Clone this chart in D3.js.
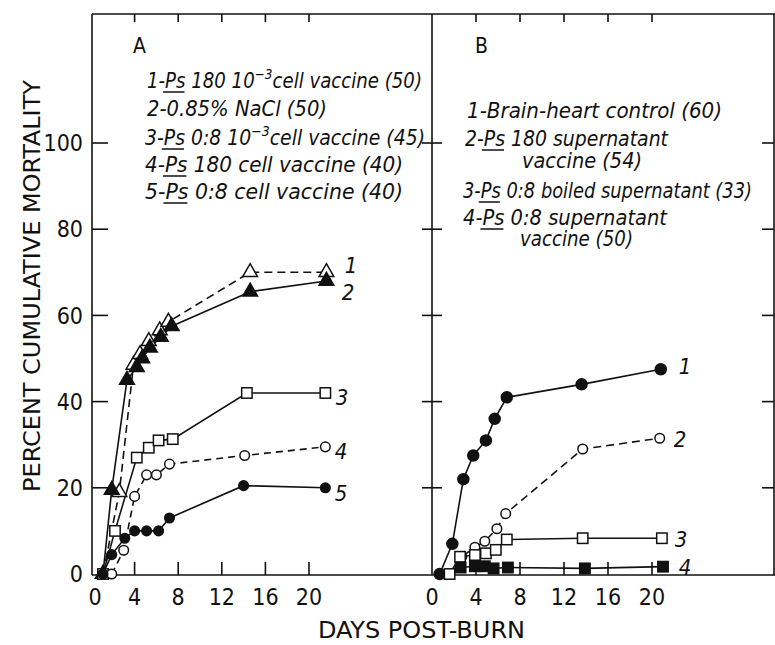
<!DOCTYPE html>
<html>
<head>
<meta charset="utf-8">
<script src="https://cdn.jsdelivr.net/npm/d3@7"></script>
<style>
  body { margin: 0; background: #fff; }
  text { font-family: "DejaVu Sans Condensed", "DejaVu Sans", sans-serif; font-stretch: condensed; fill: #111; }
  .leg { font-style: italic; font-size: 21px; }
  .tick { font-size: 23px; }
</style>
</head>
<body>
<svg id="chart" width="775" height="645"></svg>
<script>
// ---- data ----
const tickDays = [0, 4, 8, 12, 16, 20];
const tickPct = [0, 20, 40, 60, 80, 100];

// panel A
const a1Days = [1.1, 2.6, 3.9, 4.5, 5.3, 6.3, 7.1, 14.6, 21.6];
const a1Vals = [0, 19, 48.5, 51, 54, 56.5, 58.5, 70, 70];
const a2Days = [1.1, 1.9, 3.3, 4.2, 4.7, 5.4, 6.4, 7.4, 14.6, 21.6];
const a2Vals = [0, 19.5, 45, 48, 50, 52.5, 55, 57.5, 65.5, 68];
const a3Days = [1.1, 2.2, 4.2, 5.3, 6.2, 7.5, 14.3, 21.5];
const a3Vals = [0, 10, 27, 29.3, 31, 31.3, 42, 42];
const a4Days = [1.9, 3.0, 4.0, 5.1, 6.0, 7.2, 14.1, 21.5];
const a4Vals = [0, 5.5, 18, 23, 23, 25.5, 27.5, 29.5];
const a5Days = [1.1, 1.9, 3.1, 4.0, 5.1, 6.2, 7.2, 14.0, 21.5];
const a5Vals = [0, 4.5, 8.3, 10, 10, 10, 13, 20.5, 20];

// panel B
const b1Days = [0.7, 1.85, 2.85, 3.75, 4.9, 5.7, 6.8, 13.6, 20.8];
const b1Vals = [0, 7, 22, 27.5, 31, 36, 41, 44, 47.5];
const b2Days = [1.6, 2.7, 3.9, 4.8, 5.9, 6.7, 13.7, 20.7];
const b2Vals = [0, 4, 6.2, 7.6, 10.5, 14, 29, 31.5];
const b3Days = [1.6, 2.55, 3.9, 4.9, 5.8, 6.8, 13.7, 20.9];
const b3Vals = [0, 4, 4.4, 4.8, 5.6, 8, 8.3, 8.3];
const b4Days = [2.6, 3.9, 4.8, 5.6, 6.9, 13.9, 21];
const b4Vals = [1.5, 1.8, 1.8, 1.3, 1.5, 1.3, 1.7];

// legend text (u = underlined, s = superscript)
const legendA = [
  [{t: "1-"}, {t: "Ps", u: 1}, {t: " 180 10"}, {t: "\u22123", s: 1}, {t: "cell  vaccine (50)"}],
  [{t: "2-0.85% NaCl (50)"}],
  [{t: "3-"}, {t: "Ps", u: 1}, {t: " 0:8 10"}, {t: "\u22123", s: 1}, {t: "cell  vaccine (45)"}],
  [{t: "4-"}, {t: "Ps", u: 1}, {t: " 180 cell  vaccine (40)"}],
  [{t: "5-"}, {t: "Ps", u: 1}, {t: " 0:8 cell  vaccine (40)"}]
];
const legendB = [
  [{t: "1-Brain-heart  control  (60)"}],
  [{t: "2-"}, {t: "Ps", u: 1}, {t: " 180 supernatant"}],
  [{t: "vaccine (54)"}],
  [{t: "3-"}, {t: "Ps", u: 1}, {t: " 0:8 boiled supernatant (33)"}],
  [{t: "4-"}, {t: "Ps", u: 1}, {t: " 0:8 supernatant"}],
  [{t: "vaccine (50)"}]
];

// ---- layout ----
const W = 775, H = 645;
const fTop = 14, fBottom = 575, fLeft = 92, fMid = 432, fRight = 774;

const svg = d3.select("#chart");
svg.append("rect").attr("width", W).attr("height", H).attr("fill", "#fff");

const y = d3.scaleLinear().domain([0, 100]).range([574, 143]);
const xA = d3.scaleLinear().domain([0, 20]).range([91, 309]);
const xB = d3.scaleLinear().domain([0, 20]).range([432, 652]);

const ink = "#111";
const frame = svg.append("g").attr("stroke", ink).attr("stroke-width", 1.6).attr("fill", "none");
frame.append("line").attr("x1", fLeft).attr("x2", W).attr("y1", fTop).attr("y2", fTop);
frame.append("line").attr("x1", fLeft).attr("x2", W).attr("y1", fBottom).attr("y2", fBottom);
frame.append("line").attr("x1", fLeft).attr("x2", fLeft).attr("y1", fTop).attr("y2", fBottom);
frame.append("line").attr("x1", fMid).attr("x2", fMid).attr("y1", fTop).attr("y2", fBottom);
frame.append("line").attr("x1", fRight).attr("x2", fRight).attr("y1", fTop).attr("y2", fBottom);

// y ticks: inward on left, crossing at the divider, inward on the right
const yt = tickPct.filter(d => d > 0);
frame.append("g").selectAll("line").data(yt).join("line")
  .attr("x1", fLeft).attr("x2", fLeft + 16).attr("y1", d => y(d)).attr("y2", d => y(d));
frame.append("g").selectAll("line").data(yt).join("line")
  .attr("x1", fMid - 10).attr("x2", fMid + 10).attr("y1", d => y(d)).attr("y2", d => y(d));
frame.append("g").selectAll("line").data(yt).join("line")
  .attr("x1", fRight - 12).attr("x2", fRight).attr("y1", d => y(d)).attr("y2", d => y(d));

// x ticks top and bottom for both panels
const xt = tickDays.filter(d => d > 0);
[xA, xB].forEach(xs => {
  frame.append("g").selectAll("line").data(xt).join("line")
    .attr("x1", d => xs(d)).attr("x2", d => xs(d)).attr("y1", fTop).attr("y2", fTop + 8);
  frame.append("g").selectAll("line").data(xt).join("line")
    .attr("x1", d => xs(d)).attr("x2", d => xs(d)).attr("y1", fBottom - 13).attr("y2", fBottom);
});

// tick labels
svg.append("g").selectAll("text").data(tickPct).join("text")
  .attr("class", "tick")
  .attr("x", 83).attr("y", d => y(d)).attr("dy", "0.36em")
  .attr("text-anchor", "end")
  .text(d => d);
[xA, xB].forEach(xs => {
  svg.append("g").selectAll("text").data(tickDays).join("text")
    .attr("class", "tick")
    .attr("x", d => xs(d) + (d === 0 && xs === xA ? 4 : 0)).attr("y", 605)
    .attr("text-anchor", "middle")
    .text(d => d);
});

// axis titles
svg.append("text")
  .attr("transform", "translate(40,286) rotate(-90)")
  .attr("text-anchor", "middle")
  .attr("textLength", 412).attr("lengthAdjust", "spacingAndGlyphs")
  .style("font-size", "23px")
  .text("PERCENT  CUMULATIVE  MORTALITY");
svg.append("text")
  .attr("x", 318).attr("y", 638)
  .attr("textLength", 207).attr("lengthAdjust", "spacingAndGlyphs")
  .style("font-size", "23px")
  .text("DAYS  POST-BURN");

// panel letters
svg.append("text").attr("x", 133).attr("y", 53).style("font-size", "21px").text("A");
svg.append("text").attr("x", 475).attr("y", 53).style("font-size", "21px").text("B");

// legends: [x, baseline, width]
const posA = [[147, 88, 275], [147, 116, 180], [145, 145, 280], [145, 172, 258], [145, 199, 258]];
const posB = [[467, 118, 255], [465, 146, 203], [522, 168, 120], [463, 198, 289], [463, 225, 204], [520, 246, 113]];

function drawLegend(lines, pos) {
  lines.forEach((parts, i) => {
    const [lx, ly, lw] = pos[i];
    const t = svg.append("text").attr("class", "leg")
      .attr("x", lx).attr("y", ly)
      .attr("textLength", lw).attr("lengthAdjust", "spacingAndGlyphs");
    let idx = 0, wasSup = false;
    const under = [];
    parts.forEach(p => {
      const ts = t.append("tspan").text(p.t);
      if (p.s) { ts.attr("dy", -9).style("font-size", "14px"); wasSup = true; }
      else if (wasSup) { ts.attr("dy", 9); wasSup = false; }
      if (p.u) under.push([idx, idx + p.t.length - 1]);
      idx += p.t.length;
    });
    const node = t.node();
    under.forEach(([a, b]) => {
      const s = node.getStartPositionOfChar(a).x;
      const e = node.getEndPositionOfChar(b).x;
      svg.append("line").attr("x1", s - 2).attr("x2", e - 1)
        .attr("y1", ly + 4).attr("y2", ly + 4)
        .attr("stroke", ink).attr("stroke-width", 1.5);
    });
  });
}
drawLegend(legendA, posA);
drawLegend(legendB, posB);

// series
const seriesA = [
  {days: a1Days, vals: a1Vals, mark: "tri", fill: "#fff", dash: "8,5", label: "1", lx: 351, ly: 265},
  {days: a2Days, vals: a2Vals, mark: "tri", fill: ink, dash: null, label: "2", lx: 348, ly: 292},
  {days: a3Days, vals: a3Vals, mark: "sq", fill: "#fff", dash: null, label: "3", lx: 342, ly: 397},
  {days: a4Days, vals: a4Vals, mark: "circ", fill: "#fff", dash: "7,5", label: "4", lx: 341, ly: 451},
  {days: a5Days, vals: a5Vals, mark: "circ", fill: ink, dash: null, label: "5", lx: 341, ly: 493}
];
const seriesB = [
  {days: b1Days, vals: b1Vals, mark: "circ", fill: ink, dash: null, label: "1", lx: 685, ly: 366, r: 5.5},
  {days: b2Days, vals: b2Vals, mark: "circ", fill: "#fff", dash: "8,5", label: "2", lx: 680, ly: 439},
  {days: b3Days, vals: b3Vals, mark: "sq", fill: "#fff", dash: null, label: "3", lx: 681, ly: 539},
  {days: b4Days, vals: b4Vals, mark: "sq", fill: ink, dash: null, label: "4", lx: 685, ly: 567}
];

function drawSeries(list, xs) {
  const g = svg.append("g");
  list.forEach(s => {
    const pts = s.days.map((d, i) => [d, s.vals[i]]);
    const line = d3.line().x(p => xs(p[0])).y(p => y(p[1]));
    g.append("path").attr("d", line(pts))
      .attr("fill", "none").attr("stroke", ink).attr("stroke-width", 1.6)
      .attr("stroke-dasharray", s.dash);
  });
  list.forEach(s => {
    const pts = s.days.map((d, i) => [d, s.vals[i]]);
    const mg = g.append("g").attr("stroke", ink).attr("stroke-width", 1.5).attr("fill", s.fill);
    if (s.mark === "circ") {
      mg.selectAll("circle").data(pts).join("circle")
        .attr("cx", p => xs(p[0])).attr("cy", p => y(p[1])).attr("r", s.r || 4.8);
    } else if (s.mark === "sq") {
      mg.selectAll("rect").data(pts).join("rect")
        .attr("x", p => xs(p[0]) - 5.2).attr("y", p => y(p[1]) - 5.2)
        .attr("width", 10.4).attr("height", 10.4);
    } else {
      const tri = d3.symbol().type(d3.symbolTriangle).size(95);
      mg.selectAll("path").data(pts).join("path")
        .attr("d", tri).attr("transform", p => `translate(${xs(p[0])},${y(p[1])})`);
    }
    svg.append("text").attr("class", "leg")
      .attr("x", s.lx).attr("y", s.ly).attr("dy", "0.36em")
      .attr("text-anchor", "middle").style("font-size", "22px")
      .text(s.label);
  });
}
drawSeries(seriesA, xA);
drawSeries(seriesB, xB);
</script>
</body>
</html>
